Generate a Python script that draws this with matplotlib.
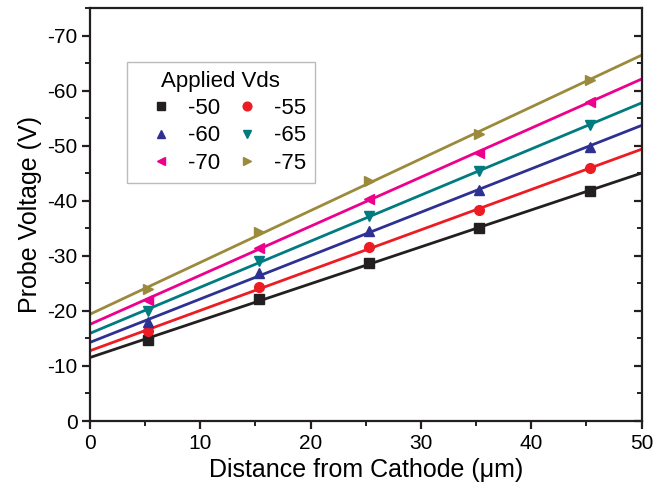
import numpy as np
import matplotlib
matplotlib.use("Agg")
import matplotlib.pyplot as plt
from matplotlib.ticker import MultipleLocator

plt.rcParams['font.family'] = ['Liberation Sans', 'DejaVu Sans']
plt.rcParams['axes.unicode_minus'] = False

distance = [5.3, 15.3, 25.3, 35.3, 45.3]
vds_labels = ["-50", "-55", "-60", "-65", "-70", "-75"]
v50 = [-14.7, -22.2, -28.7, -35.0, -41.8]
v55 = [-16.3, -24.3, -31.6, -38.3, -45.9]
v60 = [-18.0, -26.8, -34.5, -42.0, -49.8]
v65 = [-20.0, -29.1, -37.3, -45.4, -53.7]
v70 = [-22.0, -31.5, -40.4, -48.6, -58.0]
v75 = [-23.9, -34.3, -43.6, -52.2, -62.0]
series = [v50, v55, v60, v65, v70, v75]

colors = ["#231f20", "#ed1c24", "#2e3192", "#007b80", "#ec008c", "#9b8a3c"]
markers = ["s", "o", "^", "v", "<", ">"]

fig = plt.figure(figsize=(6.54, 4.87), dpi=100)
ax = fig.add_axes([0.1376, 0.1355, 0.8435, 0.848])

handles = {}
xfit = np.array([0, 50])
for lab, vals, c, m in zip(vds_labels, series, colors, markers):
    k, b = np.polyfit(distance, vals, 1)
    ax.plot(xfit, k * xfit + b, color=c, lw=2.0, zorder=2)
    h, = ax.plot(distance, vals, linestyle='none', marker=m, color=c,
                 markersize=7, zorder=3, label=lab)
    handles[lab] = h

ax.set_xlim(0, 50)
ax.set_ylim(0, -75)
ax.xaxis.set_major_locator(MultipleLocator(10))
ax.xaxis.set_minor_locator(MultipleLocator(5))
ax.yaxis.set_minor_locator(MultipleLocator(5))
ax.set_yticks(np.arange(0, -71, -10))

for s in ax.spines.values():
    s.set_linewidth(1.6)
    s.set_color("#231f20")

ax.tick_params(axis='both', which='major', labelsize=15, width=1.6, length=6,
               color="#231f20", direction='out', pad=3)
ax.tick_params(axis='both', which='minor', width=1.4, length=3.5,
               color="#231f20", direction='out')
ax.tick_params(axis='y', which='both', right=True, direction='out')
ax.tick_params(axis='x', which='both', top=False)
# right ticks pointing inward
for t in ax.yaxis.get_major_ticks() + ax.yaxis.get_minor_ticks():
    t.tick2line.set_marker(matplotlib.lines.TICKLEFT)

ax.set_xlabel("Distance from Cathode (μm)", fontsize=18, labelpad=4)
ax.set_ylabel("Probe Voltage (V)", fontsize=18, labelpad=4)

order = ["-50", "-60", "-70", "-55", "-65", "-75"]
leg = ax.legend([handles[o] for o in order], order, ncol=2, title="Applied Vds",
                loc='upper left', bbox_to_anchor=(0.067, 0.869),
                fontsize=16, title_fontsize=16, frameon=True, fancybox=False,
                edgecolor="#aaaaaa", handlelength=2.3, handletextpad=0.05,
                columnspacing=0.05, labelspacing=0.28, borderpad=0.4,
                markerscale=0.9, borderaxespad=0)
leg.get_frame().set_linewidth(1.0)

fig.savefig("out.png", dpi=100)
